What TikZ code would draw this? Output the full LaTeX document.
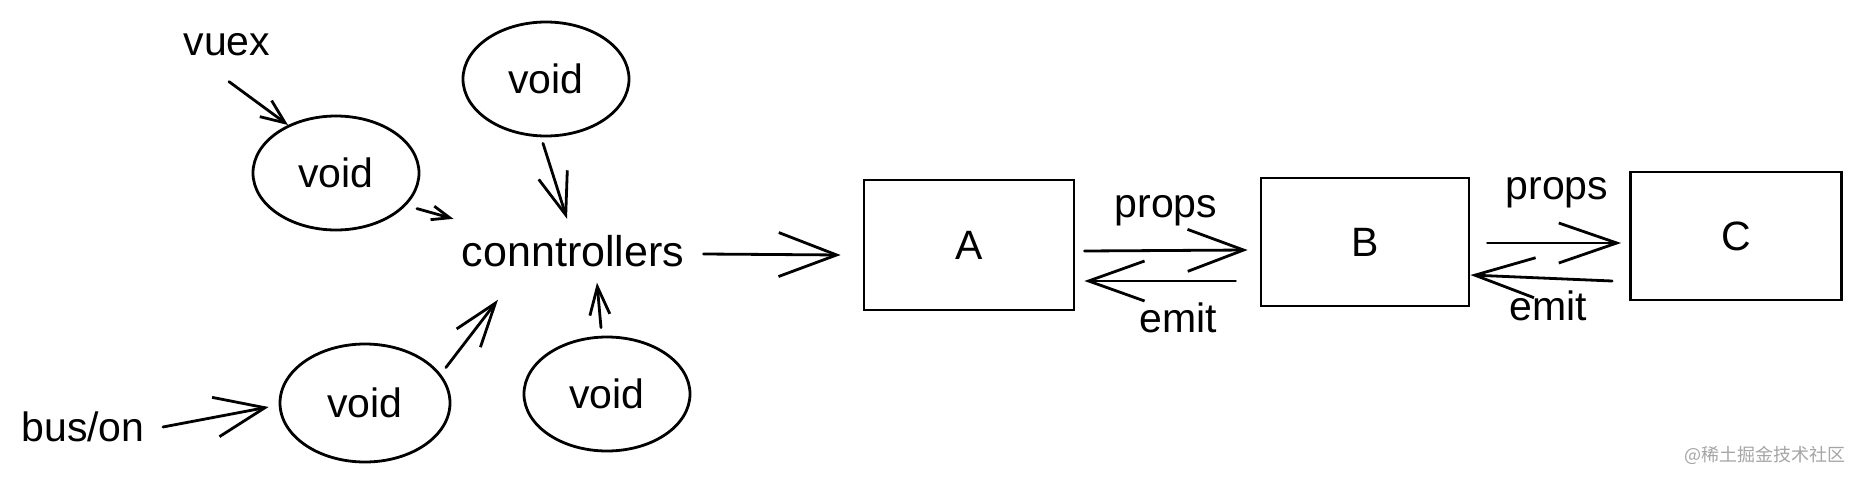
\documentclass[tikz,border=0pt]{standalone}
\usepackage{fontspec}
\setmainfont{Liberation Sans}
\newfontfamily\cjk{Noto Sans CJK SC}
\usetikzlibrary{shapes.geometric,arrows.meta,calc}
\definecolor{wmgray}{RGB}{165,165,165}
\begin{document}
\begin{tikzpicture}[x=0.5pt,y=-0.5pt,
  txt/.style={inner sep=3pt,font=\fontsize{20.5}{24}\selectfont},
  blob/.style={draw,ellipse,line width=1.4pt,minimum width=83pt,minimum height=57pt,inner sep=0pt,font=\fontsize{20.5}{24}\selectfont},
  card/.style={draw,rectangle,line width=1.4pt,inner sep=0pt,font=\fontsize{20.5}{24}\selectfont},
  arr/.style={line width=1.4pt,line cap=round},
  head/.style 2 args={-{Straight Barb[length=#1,width=#2]}},
]
\useasboundingbox[fill=white] (0,0) rectangle (1860,482);

% nodes
\node[txt] (vuex) at (227,45) {vuex};
\node[blob] (v1) at (336,173) {void};
\node[blob] (v2) at (546,79) {void};
\node[txt,font=\fontsize{21.5}{25}\selectfont] (conn) at (573,251) {conntrollers};
\node[blob,minimum width=85pt,minimum height=59pt] (v3) at (365,403) {void};
\node[blob] (v4) at (607,394) {void};
\node[txt] (bus) at (83,427) {bus/on};
\node[card,minimum width=105pt,minimum height=65pt] (A) at (969,245) {A};
\node[card,minimum width=104pt,minimum height=64pt] (B) at (1365,242) {B};
\node[card,minimum width=105.5pt,minimum height=64pt] (C) at (1736,236) {C};
\node[txt] (p1) at (1166,211) {props};
\node[txt] (e1) at (1178,318) {emit};
\node[txt] (p2) at (1557,193) {props};
\node[txt] (e2) at (1548,306) {emit};
\node[text=wmgray,font=\cjk\fontsize{9}{11}\selectfont,inner sep=0pt] (wm) at (1765,455) {@稀土掘金技术社区};

% connectors
\draw[arr,head={12pt}{10pt}] ($(vuex.south)+(1pt,-9.5pt)$) -- (v1.135);
\draw[arr,head={9pt}{7pt}] ($(v1.-24)+(5pt,-2pt)$) -- ($(conn.north west)+(-1pt,5pt)$);
\draw[arr,head={21pt}{15pt}] ($(v2.south)+(-1.5pt,-3pt)$) -- ($(conn.north)+(-3pt,5pt)$);
\draw[arr,head={29pt}{22pt}] ($(conn.east)+(6.5pt,-1.5pt)$) -- ($(A.west)+(-11pt,-5pt)$);
\draw[arr,head={28pt}{21pt}] ($(A.east)+(4.5pt,-3pt)$) -- ($(B.west)+(-6pt,-4pt)$);
\draw[arr,head={28pt}{20pt}] ($(B.west)+(-12pt,-19.5pt)$) -- ($(A.east)+(4.5pt,-18pt)$);
\draw[arr,head={29pt}{20pt}] ($(B.east)+(8.5pt,-0.5pt)$) -- ($(C.west)+(-4pt,-3.5pt)$);
\draw[arr,head={30pt}{20pt}] ($(C.west)+(-8.5pt,-22.5pt)$) -- ($(B.east)+(0pt,-16.5pt)$);
\draw[arr,head={25pt}{20pt}] ($(bus.east)+(6pt,0pt)$) -- ($(v3.west)+(-5pt,-2pt)$);
\draw[arr,head={22pt}{15pt}] ($(v3.24)+(4pt,1.5pt)$) -- ($(conn.south)+(-37.5pt,-13.25pt)$);
\draw[arr,head={14pt}{10pt}] ($(v4.north)+(-3pt,4pt)$) -- ($(conn.south)+(12pt,-4.75pt)$);
\end{tikzpicture}
\end{document}
